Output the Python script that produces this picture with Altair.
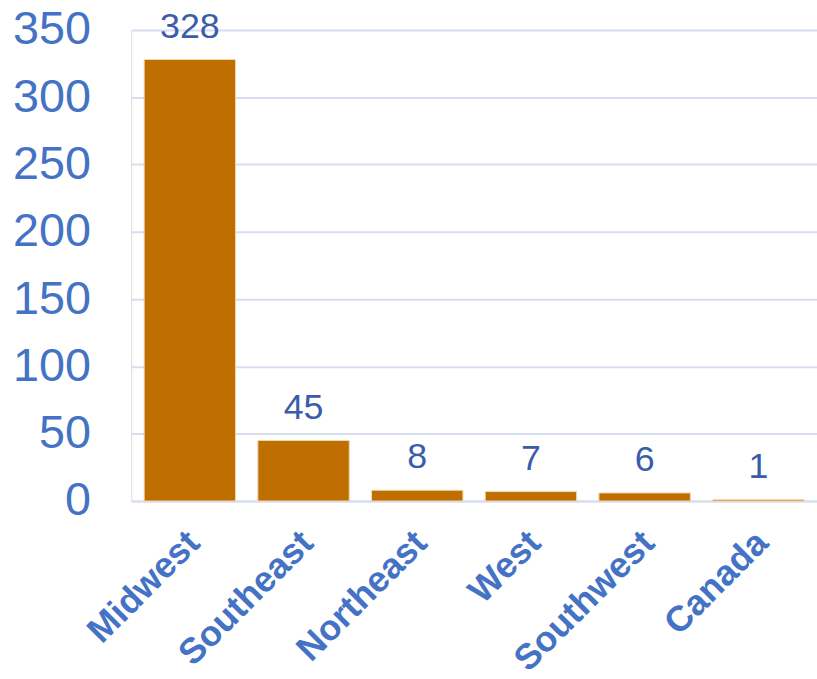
import altair as alt
import pandas as pd

regions = ["Midwest", "Southeast", "Northeast", "West", "Southwest", "Canada"]
counts = [328, 45, 8, 7, 6, 1]

df = pd.DataFrame({"region": regions, "count": counts})

base = alt.Chart(df).encode(
    x=alt.X("region:N", sort=regions,
            scale=alt.Scale(paddingInner=0.196, paddingOuter=0.114),
            axis=alt.Axis(title=None, labelAngle=-45, labelFont="Liberation Sans",
                          labelFontSize=36, labelFontWeight="bold", labelColor="#4472C4",
                          labelPadding=24, labelOffset=-8, labelLimit=0, ticks=False,
                          domain=True, domainColor="#D6DEEF", domainWidth=2,
                          labelAlign="right", labelBaseline="top")),
    y=alt.Y("count:Q", scale=alt.Scale(domain=[0, 350], nice=False),
            axis=alt.Axis(title=None, values=[0, 50, 100, 150, 200, 250, 300, 350],
                          labelFont="Liberation Sans", labelFontSize=47,
                          labelColor="#4472C4", labelPadding=41, ticks=False,
                          domain=False, gridColor="#D6DEEF", gridWidth=2)),
)

bars = base.mark_bar(color="#BF6F00", stroke="#F2D9B0", strokeWidth=1)
text = base.mark_text(dy=-14, baseline="bottom", font="Liberation Sans",
                      fontSize=36, color="#3B5CA8").encode(text="count:Q")

chart = (bars + text).properties(
    width=690, height=474,
    autosize=alt.AutoSizeParams(type="none"),
    padding={"left": 132, "top": 28, "right": 0, "bottom": 177},
).configure_view(stroke=None).configure(background="white")

chart.save("out.html", embed_options={"renderer": "svg", "actions": False})
